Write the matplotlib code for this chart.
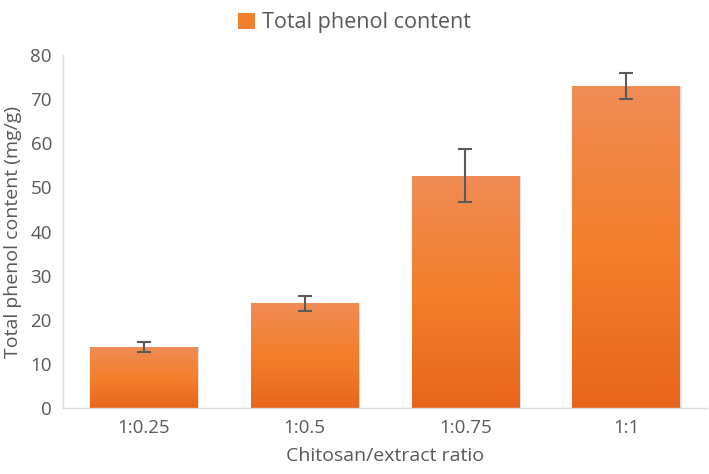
import numpy as np
import matplotlib
matplotlib.use('Agg')
from matplotlib import pyplot as plt
from matplotlib.colors import LinearSegmentedColormap
from matplotlib.patches import Patch

categories = ['1:0.25', '1:0.5', '1:0.75', '1:1']
phenol = [13.8, 23.8, 52.6, 73.0]
phenol_err = [1.1, 1.7, 6.0, 2.9]

plt.rcParams['font.family'] = ['Open Sans', 'DejaVu Sans']
text_color = '#595959'

fig = plt.figure(figsize=(7.09, 4.74), dpi=100)
ax = fig.add_axes([0.089, 0.139, 0.908, 0.745])

x = np.arange(len(categories))
bars = ax.bar(x, phenol, width=0.67, color='none', edgecolor='none', zorder=2)

# vertical gradient inside each bar
cmap = LinearSegmentedColormap.from_list('orange', ['#E8661B', '#F47F2C', '#EF8C55'])
grad = np.linspace(0, 1, 256).reshape(-1, 1)
for b in bars:
    x0, w, h = b.get_x(), b.get_width(), b.get_height()
    # soft shadow
    ax.add_patch(plt.Rectangle((x0 + 0.012, 0), w, h, color='#000000', alpha=0.12, zorder=1, lw=0))
    im = ax.imshow(grad, cmap=cmap, aspect='auto', origin='lower',
                   extent=[x0, x0 + w, 0, h], zorder=2)
    im.set_clip_path(b)

ax.errorbar(x, phenol, yerr=phenol_err, fmt='none', ecolor='#5a5a5a',
            elinewidth=1.5, capsize=5, capthick=1.5, zorder=3)

ax.set_xlim(-0.5, 3.5)
ax.set_ylim(0, 80)
ax.set_yticks(range(0, 81, 10))
ax.set_xticks(x)
ax.set_xticklabels(categories)
ax.tick_params(axis='both', length=0, labelsize=13.5, colors=text_color, pad=8)

for s in ['top', 'right']:
    ax.spines[s].set_visible(False)
for s in ['left', 'bottom']:
    ax.spines[s].set_color('#d9d9d9')
    ax.spines[s].set_linewidth(1)

ax.set_ylabel('Total phenol content (mg/g)', fontsize=14, color=text_color, labelpad=6)
ax.set_xlabel('Chitosan/extract ratio', fontsize=14, color=text_color, labelpad=7)

handle = Patch(facecolor='#F07F30', edgecolor='none')
fig.legend([handle], ['Total phenol content'], loc='upper center',
           bbox_to_anchor=(0.5, 1.015), frameon=False, fontsize=15.5,
           handlelength=0.8, handleheight=0.8, handletextpad=0.3, labelcolor=text_color)

fig.savefig('out.png', dpi=100)
